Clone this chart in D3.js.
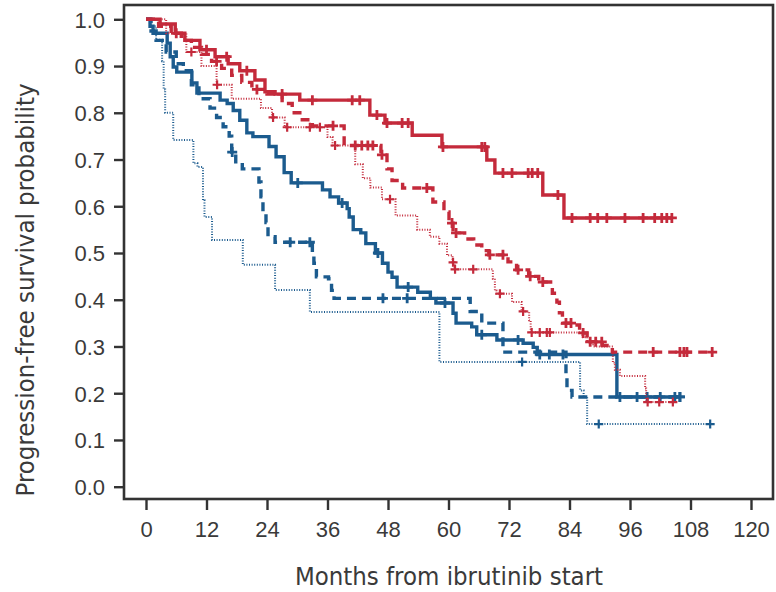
<!DOCTYPE html>
<html>
<head>
<meta charset="utf-8">
<script src="https://cdn.jsdelivr.net/npm/d3@7.9.0/dist/d3.min.js"></script>
<style>
  body { margin: 0; background: #fff; }
  svg { display: block; }
  .tick text { font-family: "Liberation Sans", Arial, sans-serif; font-size: 22px; fill: #3a3a3a; }
  .title { font-family: "Liberation Sans Narrow", "DejaVu Sans Condensed", sans-serif; font-size: 25.5px; fill: #3a3a3a; }
</style>
</head>
<body>
<svg width="776" height="592"></svg>
<script>
// x ticks (months) and y ticks (probability)
const monthTicks = [0, 12, 24, 36, 48, 60, 72, 84, 96, 108, 120];
const probTicks = [0, 0.1, 0.2, 0.3, 0.4, 0.5, 0.6, 0.7, 0.8, 0.9, 1.0];

// red, solid
const redSolidT = [0, 2.8, 5.8, 7.7, 10.7, 13.7, 16.3, 18.6, 21.6, 23.6, 25.6, 30.5, 44.4, 47.4, 52.8, 58.7, 67.6, 69.2, 78.7, 82.9];
const redSolidS = [1.0, 0.99, 0.97, 0.955, 0.935, 0.92, 0.905, 0.89, 0.87, 0.845, 0.84, 0.827, 0.795, 0.778, 0.752, 0.727, 0.699, 0.671, 0.624, 0.575];
const redSolidEnd = 104.5;
const redSolidCens = [12, 16, 20, 27, 33, 40.9, 42.4, 45.8, 47.8, 50.8, 52.0, 58.9, 66.6, 67.2, 70.8, 72.6, 75.8, 76.6, 77.7, 81.7, 84.5, 88.1, 89.6, 91.4, 95.0, 98.6, 100.9, 102.3, 103.3, 104.3];

// red, dashed
const redDashT = [0, 2.5, 5, 7, 9, 11, 13, 15, 17, 19, 21, 24, 27, 29, 31, 33, 39.3, 46.6, 47.8, 48.8, 50.9, 56.9, 59.1, 60.1, 60.9, 63.2, 65, 66.6, 68, 71.8, 73.5, 75.9, 77.9, 80.6, 81.5, 82, 82.6, 85.5, 86, 87.5, 90.5, 92.5];
const redDashS = [1, 0.985, 0.97, 0.955, 0.94, 0.925, 0.91, 0.895, 0.88, 0.865, 0.85, 0.84, 0.82, 0.80, 0.785, 0.772, 0.73, 0.71, 0.68, 0.655, 0.639, 0.609, 0.588, 0.564, 0.543, 0.53, 0.517, 0.505, 0.496, 0.481, 0.464, 0.45, 0.438, 0.414, 0.395, 0.372, 0.35, 0.346, 0.329, 0.31, 0.302, 0.288];
const redDashEnd = 112.3;
const redDashCens = [6, 14, 22, 37.1, 41.5, 42.8, 44, 45, 46.8, 55.7, 60.7, 61.5, 68.2, 70.8, 73.8, 76.2, 78.7, 83.3, 84.3, 86.7, 88.1, 89.2, 90.4, 100.6, 105.9, 106.7, 107.3, 112.3];

// red, dotted
const redDotT = [0, 4, 8, 11, 14, 17, 22.8, 25, 27.5, 36, 37, 41.5, 43, 44.5, 46.8, 49.5, 53.8, 56.3, 58.2, 59.7, 60.8, 61.2, 68.8, 69.2, 69.5, 72.6, 74.5, 76, 76.3, 86.5, 87.5, 88.7, 92.6, 93, 94, 99, 99.2];
const redDotS = [1, 0.97, 0.93, 0.9, 0.86, 0.83, 0.81, 0.79, 0.769, 0.748, 0.73, 0.69, 0.66, 0.64, 0.615, 0.58, 0.55, 0.535, 0.52, 0.495, 0.48, 0.465, 0.445, 0.42, 0.413, 0.395, 0.375, 0.356, 0.33, 0.32, 0.31, 0.30, 0.265, 0.25, 0.237, 0.21, 0.181];
const redDotEnd = 104.5;
const redDotCens = [9, 14.1, 25.2, 28, 32.5, 34.5, 37.5, 48.4, 60.9, 61.3, 64.9, 70.2, 74.8, 76.5, 78.1, 79.5, 80.1, 99.5, 101.8, 104.5];

// blue, solid
const blueSolidT = [0, 0.8, 1.4, 4.2, 4.8, 5.4, 6.1, 9.1, 10.1, 14.7, 16.1, 17.3, 18.6, 20, 21.2, 24.4, 25.8, 27.4, 28.8, 35, 36.5, 38.2, 39.9, 40.3, 41.1, 42.6, 43.6, 45.5, 46.9, 48, 48.8, 49.8, 53.9, 56.4, 57.5, 60.9, 61.5, 64.6, 65.6, 69.6, 74.8, 76.8, 77.6, 93.4];
const blueSolidS = [1, 0.985, 0.97, 0.949, 0.92, 0.898, 0.887, 0.864, 0.842, 0.827, 0.82, 0.805, 0.784, 0.757, 0.749, 0.728, 0.706, 0.672, 0.65, 0.635, 0.62, 0.607, 0.595, 0.577, 0.55, 0.543, 0.52, 0.5, 0.478, 0.459, 0.448, 0.427, 0.416, 0.403, 0.393, 0.371, 0.35, 0.342, 0.325, 0.314, 0.307, 0.298, 0.283, 0.192];
const blueSolidEnd = 105.9;
const blueSolidCens = [30.1, 38.9, 46, 52, 59.3, 66.6, 73.8, 78.1, 80, 82.7, 94, 97.4, 99.4, 102, 104.9, 105.9];

// blue, dashed
const blueDashT = [0, 1, 2, 4, 6, 7.4, 9, 10.5, 12.7, 14, 15.3, 16.5, 17, 17.8, 19.1, 22.4, 22.8, 23.2, 23.8, 24.2, 25.6, 33, 33.3, 33.8, 36.2, 36.8, 37.3, 64.3, 66.6, 70.8, 83.3, 83.5, 84.5];
const blueDashS = [1, 0.975, 0.955, 0.93, 0.905, 0.89, 0.86, 0.83, 0.81, 0.79, 0.77, 0.75, 0.716, 0.695, 0.68, 0.652, 0.62, 0.588, 0.565, 0.535, 0.523, 0.5, 0.478, 0.449, 0.445, 0.42, 0.403, 0.375, 0.35, 0.288, 0.24, 0.206, 0.192];
const blueDashEnd = 105.9;
const blueDashCens = [17.1, 28.6, 32.5, 47, 51.8, 105.9];

// blue, dotted
const blueDotT = [0, 1, 2, 3.2, 3.5, 3.8, 5.4, 9.4, 10.2, 11.3, 11.6, 13.1, 19.2, 25.6, 32.5, 58.2, 86.1, 86.8, 87.5];
const blueDotS = [1, 0.985, 0.956, 0.91, 0.85, 0.80, 0.742, 0.692, 0.684, 0.613, 0.577, 0.528, 0.475, 0.421, 0.374, 0.267, 0.206, 0.192, 0.134];
const blueDotEnd = 111.9;
const blueDotCens = [74.6, 89.8, 111.9];

const red = '#c42a3b';
const blue = '#1b5b8e';
const ink = '#333';

const svg = d3.select('svg');

// plot frame
const frame = { left: 124, top: 5, right: 773, bottom: 499 };

const x = d3.scaleLinear().domain([0, 120]).range([146, 751]);
const y = d3.scaleLinear().domain([0, 1]).range([486.7, 19.3]);

// axes
const yAxis = svg.append('g')
  .attr('transform', `translate(${frame.left},0)`)
  .call(d3.axisLeft(y).tickValues(probTicks).tickFormat(d3.format('.1f')).tickSize(10).tickPadding(9));
const xAxis = svg.append('g')
  .attr('transform', `translate(0,${frame.bottom})`)
  .call(d3.axisBottom(x).tickValues(monthTicks).tickSize(11).tickPadding(8));
[yAxis, xAxis].forEach(g => {
  g.select('.domain').remove();
  g.selectAll('.tick line').attr('stroke', ink).attr('stroke-width', 2.4);
});
yAxis.selectAll('.tick text').attr('dy', '0.36em');
xAxis.selectAll('.tick text').attr('dy', '0.85em');

svg.append('rect')
  .attr('x', frame.left).attr('y', frame.top)
  .attr('width', frame.right - frame.left).attr('height', frame.bottom - frame.top)
  .attr('fill', 'none').attr('stroke', ink).attr('stroke-width', 2.6);

// curves
const curves = [
  { t: blueDotT, s: blueDotS, end: blueDotEnd, cens: blueDotCens, color: blue, style: 'dot' },
  { t: blueDashT, s: blueDashS, end: blueDashEnd, cens: blueDashCens, color: blue, style: 'dash' },
  { t: blueSolidT, s: blueSolidS, end: blueSolidEnd, cens: blueSolidCens, color: blue, style: 'solid' },
  { t: redDotT, s: redDotS, end: redDotEnd, cens: redDotCens, color: red, style: 'dot' },
  { t: redDashT, s: redDashS, end: redDashEnd, cens: redDashCens, color: red, style: 'dash' },
  { t: redSolidT, s: redSolidS, end: redSolidEnd, cens: redSolidCens, color: red, style: 'solid' },
];

const line = d3.line().x(d => x(d[0])).y(d => y(d[1])).curve(d3.curveStepAfter);

function survAt(c, t) {
  const i = d3.bisectRight(c.t, t) - 1;
  return c.s[Math.max(i, 0)];
}

curves.forEach(c => {
  const pts = c.t.map((t, i) => [t, c.s[i]]);
  pts.push([c.end, c.s[c.s.length - 1]]);
  const path = svg.append('path')
    .attr('d', line(pts))
    .attr('fill', 'none')
    .attr('stroke', c.color);
  if (c.style === 'solid') path.attr('stroke-width', 3.4);
  if (c.style === 'dash') path.attr('stroke-width', 3.4).attr('stroke-dasharray', '9,6');
  if (c.style === 'dot') path.attr('stroke-width', 2).attr('stroke-dasharray', '1,1.6');

  const r = c.style === 'dot' ? 4.5 : 5;
  const g = svg.append('g').attr('stroke', c.color).attr('stroke-width', c.style === 'dot' ? 2.2 : 2.8);
  c.cens.forEach(t => {
    const cx = x(t), cy = y(survAt(c, t));
    g.append('path').attr('d', `M${cx - r},${cy}H${cx + r}M${cx},${cy - r}V${cy + r}`);
  });
});

// titles
svg.append('text').attr('class', 'title')
  .attr('x', 449).attr('y', 585)
  .attr('text-anchor', 'middle')
  .text('Months from ibrutinib start');
svg.append('text').attr('class', 'title')
  .attr('transform', 'translate(34,290) rotate(-90)')
  .attr('text-anchor', 'middle')
  .text('Progression-free survival probability');
</script>
</body>
</html>
